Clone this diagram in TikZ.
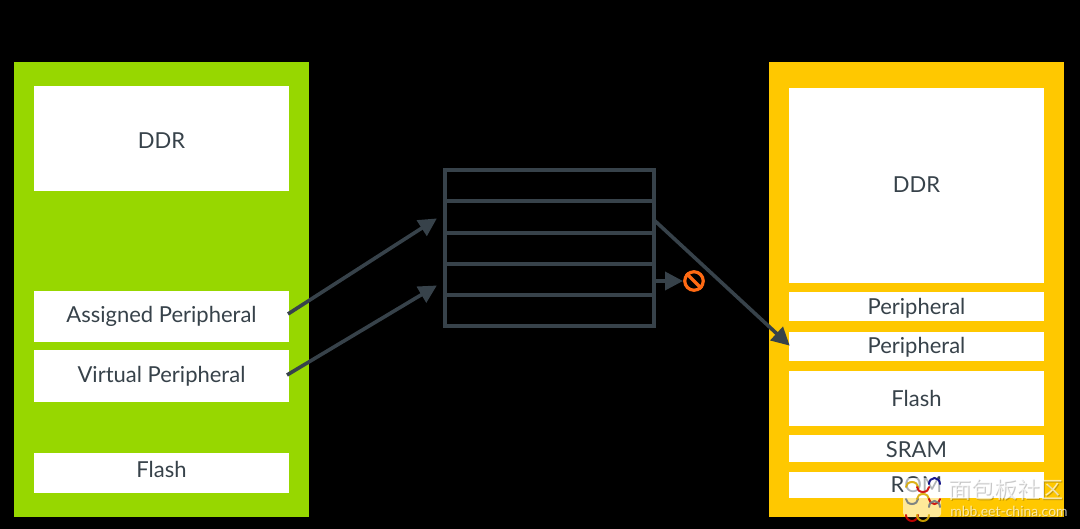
\documentclass[tikz,border=0pt]{standalone}
\usepackage{fontspec}
\setmainfont{Lato}
\newfontfamily\cjk{Noto Sans CJK SC}
\usetikzlibrary{arrows.meta}
\definecolor{ink}{HTML}{37424A}
\definecolor{leaf}{HTML}{97D700}
\definecolor{amber}{HTML}{FFC800}
\definecolor{stopc}{HTML}{FF6A13}
\tikzset{
  x=1pt,y=-1pt,
  panel/.style={draw=none,anchor=north west,inner sep=0pt,outer sep=0pt},
  cell/.style={fill=white,draw=none,anchor=north west,inner sep=0pt,outer sep=0pt},
  celltext/.style={text=ink,font=\fontsize{22}{26}\selectfont,inner sep=0pt},
  row/.style={draw=ink,line width=3.7pt,anchor=north west,inner sep=0pt,outer sep=0pt,minimum width=209pt},
  link/.style={draw=ink,line width=3.6pt,-{Triangle[length=18pt,width=18pt]},shorten >=-1pt},
  arcline/.style={line width=2pt,line cap=round,opacity=.9},
  markfont/.style={text=white,opacity=.68,inner sep=0pt},
  markshade/.style={text=black,opacity=.22,inner sep=0pt}
}
% name, x, y, width, height, fill
\newcommand{\panelbox}[6]{\node[panel,fill=#6,minimum width=#4 pt,minimum height=#5 pt] (#1) at (#2,#3) {};}
% name, x, y, width, height, text, vertical text offset
\newcommand{\cellbox}[7]{\node[cell,minimum width=#4 pt,minimum height=#5 pt,label={[celltext,yshift=#7 pt]center:{#6}}] (#1) at (#2,#3) {};}
\begin{document}
\begin{tikzpicture}
\useasboundingbox[fill=black] (0,0) rectangle (1080,529);
% memory maps
\panelbox{guest}{14}{62}{295}{455}{leaf}
\panelbox{host}{769}{62}{295}{455}{amber}
\cellbox{gddr}{34}{86}{255}{105}{DDR}{-2}
\cellbox{gassigned}{34}{291}{255}{51}{Assigned Peripheral}{0}
\cellbox{gvirtual}{34}{350}{255}{52}{Virtual Peripheral}{0}
\cellbox{gflash}{34}{453}{255}{40}{Flash}{3.5}
\cellbox{hddr}{789}{88}{255}{195}{DDR}{1}
\cellbox{hperia}{789}{292}{255}{29}{Peripheral}{-2}
\cellbox{hperib}{789}{332}{255}{29}{Peripheral}{-1}
\cellbox{hflash}{789}{371}{255}{55}{Flash}{0}
\cellbox{hsram}{789}{435}{255}{27}{SRAM}{-1}
\cellbox{hrom}{789}{472}{255}{26}{ROM}{0}
% translation table
\node[row,minimum height=31pt] (ra) at (445,170) {};
\node[row,minimum height=32pt] (rb) at (445,201) {};
\node[row,minimum height=31pt] (rc) at (445,233) {};
\node[row,minimum height=31pt] (rd) at (445,264) {};
\node[row,minimum height=31pt] (re) at (445,295) {};
% connector ends
\coordinate (ga) at (288,314);
\coordinate (gv) at (287,375);
\coordinate (ta) at (436,219);
\coordinate (tb) at (436,286);
\coordinate (out) at (654,220);
\coordinate (hp) at (789,345);
\coordinate (sa) at (654,281);
\coordinate (sb) at (682,281);
\draw[link] (ga) -- (ta);
\draw[link] (gv) -- (tb);
\draw[link] (out) -- (hp);
\draw[link] (sa) -- (sb);
% blocked marker
\node[circle,draw=stopc,line width=3.2pt,minimum size=18.5pt,inner sep=0pt] (stop) at (694,281) {};
\draw[stopc,line width=3.2pt] (stop.north west) -- (stop.south east);
% site mark
\node[fill=white,fill opacity=.6,rounded corners=4pt,minimum width=38pt,minimum height=39pt,inner sep=0pt,anchor=north west] (logo) at (903,478) {};
\begin{scope}[arcline]
\draw[amber!85!black] (906,487) arc (180:360:6 and 5);
\draw[red!80!black] (917,487) arc (180:0:6 and 5);
\draw[blue!50!black] (929,484) arc (180:360:5.5 and 6);
\draw[ink!70] (906,499) arc (180:0:6 and 5);
\draw[amber!85!black] (917,499) arc (180:360:6 and 5);
\draw[red!80!black] (929,499) arc (180:0:5.5 and 5);
\draw[red!80!black] (906,515) arc (180:0:6 and 6);
\draw[amber!85!black] (917,515) arc (180:0:6 and 6);
\draw[ink!70] (929,507) arc (180:360:5.5 and 6);
\end{scope}
\node[markshade,font=\cjk\fontsize{23}{26}\selectfont] (mks) at (1007,491) {面包板社区};
\node[markfont,font=\cjk\fontsize{23}{26}\selectfont] (mk) at (1006,490) {面包板社区};
\node[markshade,font=\fontsize{14}{16}\selectfont] (urls) at (1010,512) {mbb.eet-china.com};
\node[markfont,font=\fontsize{14}{16}\selectfont] (url) at (1009,511) {mbb.eet-china.com};
\end{tikzpicture}
\end{document}
